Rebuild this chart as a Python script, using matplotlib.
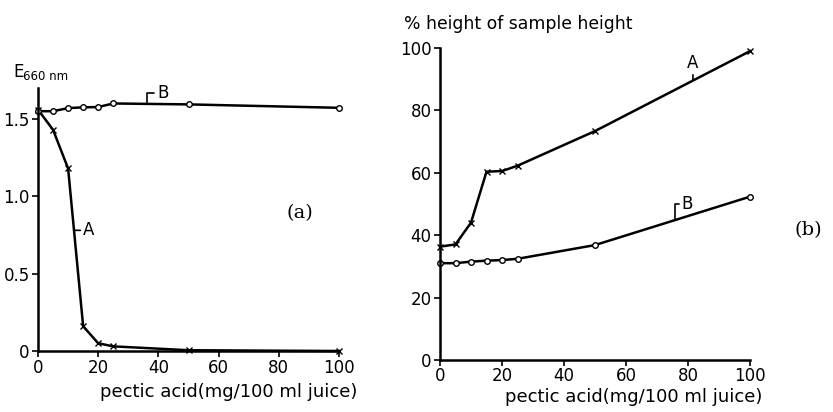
import matplotlib
matplotlib.use("Agg")
import matplotlib.pyplot as plt

# pectic acid added (mg / 100 ml juice)
pectic = [0, 5, 10, 15, 20, 25, 50, 100]

# (a) extinction at 660 nm
ext_A = [1.56, 1.43, 1.18, 0.16, 0.05, 0.03, 0.005, 0.0]
ext_B = [1.55, 1.55, 1.57, 1.575, 1.577, 1.60, 1.594, 1.572]

# (b) % height of sample height
hgt_A = [36.3, 37.0, 44.0, 60.3, 60.5, 62.2, 73.3, 98.9]
hgt_B = [31.0, 31.0, 31.5, 31.8, 32.0, 32.4, 36.8, 52.3]

x_ticks = [0, 20, 40, 60, 80, 100]
xlabel = "pectic acid(mg/100 ml juice)"

W, H = 833, 412
fig = plt.figure(figsize=(W / 100, H / 100), dpi=100)
plt.rcParams['font.family'] = ['DejaVu Sans']

def px(x0, y0, x1, y1):
    # pixel box -> figure fraction rect
    return [x0 / W, 1 - y1 / H, (x1 - x0) / W, (y1 - y0) / H]

ax1 = fig.add_axes(px(38, 88, 339, 351))
ax2 = fig.add_axes(px(440, 47.7, 750, 360))

lw = 1.8
for ax in (ax1, ax2):
    for s in ("top", "right"):
        ax.spines[s].set_visible(False)
    for s in ("left", "bottom"):
        ax.spines[s].set_linewidth(1.8)
    ax.tick_params(direction="out", length=4, width=1.2, labelsize=12, pad=2)
    ax.set_xlim(0, 100)
    ax.set_xticks(x_ticks)
    ax.set_xticklabels([str(t) for t in x_ticks])
    ax.set_xlabel(xlabel, fontsize=13)

ax2.tick_params(axis="x", pad=1)
ax1.xaxis.set_label_coords(0.635, -0.156)
ax2.xaxis.set_label_coords(0.626, -0.118)
ax1.xaxis.label.set_va("center")
ax2.xaxis.label.set_va("center")

# ---- (a)
ax1.plot(pectic, ext_A, color="black", lw=lw, marker="x", ms=5, mew=1.0, clip_on=False)
ax1.plot(pectic, ext_B, color="black", lw=lw, marker="o", ms=4, mfc="white", mew=1.0, clip_on=False)
ax1.set_ylim(0, 1.7)
ax1.set_yticks([0, 0.5, 1.0, 1.5])
ax1.set_yticklabels(["0", "0.5", "1.0", "1.5"])

ax1.annotate("B", xy=(36.2, 1.598), xytext=(39.5, 1.665), fontsize=12, va="center", ha="left",
             annotation_clip=False,
             arrowprops=dict(arrowstyle="-", lw=1.2, shrinkA=0, shrinkB=0,
                             connectionstyle="angle,angleA=0,angleB=90,rad=0"))
ax1.annotate("A", xy=(12.0, 0.78), xytext=(15.0, 0.78), fontsize=12, va="center", ha="left",
             arrowprops=dict(arrowstyle="-", lw=1.2, shrinkA=0, shrinkB=0))

fig.text(13 / W, 1 - 72 / H, "E", fontsize=12, va="center", ha="left")
fig.text(23 / W, 1 - 76 / H, "660 nm", fontsize=8.5, va="center", ha="left")
fig.text(300 / W, 1 - 213 / H, "(a)", fontsize=14, family="DejaVu Serif", ha="center", va="center")

# ---- (b)
ax2.plot(pectic, hgt_A, color="black", lw=lw, marker="x", ms=5, mew=1.0, clip_on=False)
ax2.plot(pectic, hgt_B, color="black", lw=lw, marker="o", ms=4, mfc="white", mew=1.0, clip_on=False)
ax2.set_ylim(0, 100)
ax2.set_yticks([0, 20, 40, 60, 80, 100])

ax2.annotate("A", xy=(81.6, 89.5), xytext=(81.6, 92.2), fontsize=12, va="bottom", ha="center",
             arrowprops=dict(arrowstyle="-", lw=1.2, shrinkA=0, shrinkB=0))
ax2.annotate("B", xy=(75.8, 44.8), xytext=(78.0, 50.0), fontsize=12, va="center", ha="left",
             arrowprops=dict(arrowstyle="-", lw=1.2, shrinkA=0, shrinkB=0,
                             connectionstyle="angle,angleA=0,angleB=90,rad=0"))

fig.text(404 / W, 1 - 24 / H, "% height of sample height", fontsize=12.4, va="center", ha="left")
fig.text(808 / W, 1 - 230 / H, "(b)", fontsize=14, family="DejaVu Serif", ha="center", va="center")

fig.savefig("out.png", dpi=100)
